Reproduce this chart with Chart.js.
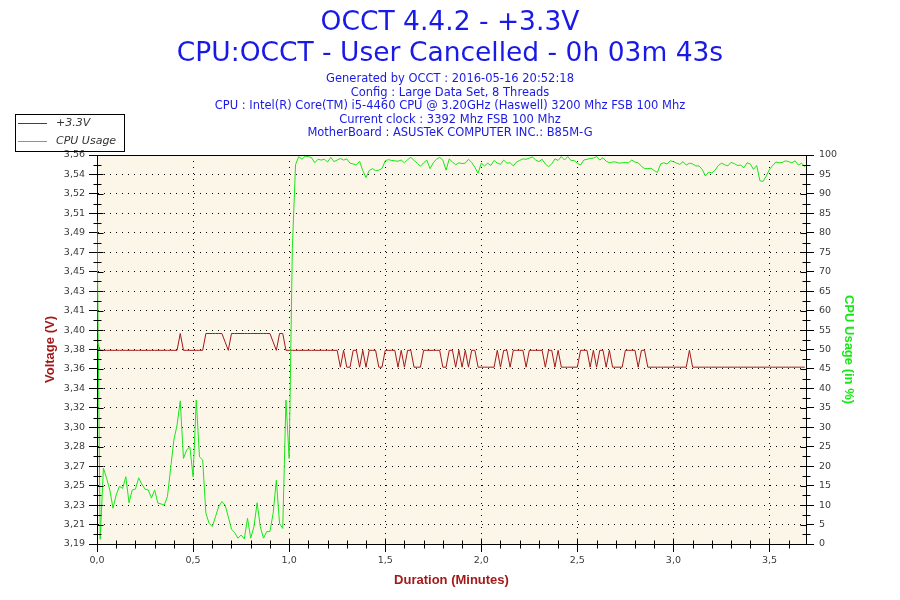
<!DOCTYPE html>
<html>
<head>
<meta charset="utf-8">
<title>OCCT 4.4.2 - +3.3V</title>
<script src="https://cdn.jsdelivr.net/npm/chart.js@4.4.1/dist/chart.umd.min.js"></script>
<style>
  html, body { margin: 0; padding: 0; background: #fff; }
  #wrap { width: 900px; height: 600px; }
</style>
</head>
<body>
<div id="wrap"><canvas id="occt" width="900" height="600"></canvas></div>
<script>
// one sample per second, 0s .. 221s
const voltage = [
  3.384, 3.376, 3.376, 3.376, 3.376, 3.376, 3.376, 3.376, 3.376, 3.376,
  3.376, 3.376, 3.376, 3.376, 3.376, 3.376, 3.376, 3.376, 3.376, 3.376,
  3.376, 3.376, 3.376, 3.376, 3.376, 3.376, 3.392, 3.376, 3.376, 3.376,
  3.376, 3.376, 3.376, 3.376, 3.392, 3.392, 3.392, 3.392, 3.392, 3.392,
  3.384, 3.376, 3.392, 3.392, 3.392, 3.392, 3.392, 3.392, 3.392, 3.392,
  3.392, 3.392, 3.392, 3.392, 3.392, 3.384, 3.376, 3.392, 3.392, 3.376,
  3.376, 3.376, 3.376, 3.376, 3.376, 3.376, 3.376, 3.376, 3.376, 3.376,
  3.376, 3.376, 3.376, 3.376, 3.376, 3.376, 3.360, 3.376, 3.360, 3.360,
  3.376, 3.376, 3.360, 3.376, 3.360, 3.376, 3.376, 3.376, 3.360, 3.360,
  3.376, 3.376, 3.376, 3.376, 3.360, 3.376, 3.360, 3.376, 3.376, 3.360,
  3.360, 3.360, 3.376, 3.376, 3.376, 3.376, 3.376, 3.376, 3.360, 3.360,
  3.376, 3.376, 3.360, 3.376, 3.360, 3.376, 3.360, 3.376, 3.376, 3.360,
  3.360, 3.360, 3.360, 3.360, 3.360, 3.376, 3.360, 3.376, 3.376, 3.360,
  3.376, 3.376, 3.376, 3.376, 3.360, 3.376, 3.376, 3.376, 3.376, 3.376,
  3.360, 3.376, 3.376, 3.360, 3.376, 3.360, 3.360, 3.360, 3.360, 3.360,
  3.360, 3.376, 3.376, 3.376, 3.360, 3.376, 3.360, 3.376, 3.376, 3.360,
  3.376, 3.360, 3.360, 3.360, 3.360, 3.376, 3.376, 3.376, 3.376, 3.360,
  3.376, 3.376, 3.360, 3.360, 3.360, 3.360, 3.360, 3.360, 3.360, 3.360,
  3.360, 3.360, 3.360, 3.360, 3.360, 3.376, 3.360, 3.360, 3.360, 3.360,
  3.360, 3.360, 3.360, 3.360, 3.360, 3.360, 3.360, 3.360, 3.360, 3.360,
  3.360, 3.360, 3.360, 3.360, 3.360, 3.360, 3.360, 3.360, 3.360, 3.360,
  3.360, 3.360, 3.360, 3.360, 3.360, 3.360, 3.360, 3.360, 3.360, 3.360,
  3.360, 3.360
];

const cpuUsage = [
  83.0, 1.2, 19.5, 16.9, 13.9, 9.2, 12.6, 14.8, 14.3, 17.3,
  10.6, 13.9, 14.1, 17.0, 15.4, 14.1, 13.9, 11.8, 13.9, 10.5,
  10.3, 10.0, 12.2, 19.5, 26.7, 30.6, 36.8, 22.0, 24.2, 25.0,
  17.3, 37.0, 22.4, 21.6, 7.9, 5.3, 4.5, 7.0, 9.6, 10.9,
  10.0, 7.0, 3.8, 2.9, 1.5, 2.3, 1.3, 6.6, 1.5, 4.4,
  10.6, 4.4, 1.5, 3.2, 3.2, 7.9, 16.4, 5.3, 4.0, 37.0,
  22.0, 76.0, 97.5, 99.6, 98.9, 99.7, 99.6, 99.3, 98.0, 98.9,
  98.7, 98.9, 98.2, 99.4, 98.3, 98.7, 99.1, 98.7, 99.0, 97.9,
  97.7, 97.4, 98.4, 96.0, 94.2, 96.0, 96.5, 96.0, 96.1, 96.5,
  98.5, 98.8, 98.6, 98.5, 98.4, 98.7, 98.0, 98.8, 99.4, 98.6,
  97.9, 97.1, 98.0, 98.7, 96.5, 98.0, 98.9, 99.4, 98.7, 96.1,
  99.0, 98.2, 97.5, 98.0, 97.8, 97.9, 98.9, 98.1, 96.8, 95.3,
  97.9, 97.2, 97.9, 97.3, 98.6, 97.9, 97.6, 98.7, 97.9, 98.0,
  97.2, 98.2, 98.6, 99.0, 98.9, 99.2, 99.5, 98.7, 98.3, 98.9,
  97.7, 97.0, 97.7, 99.0, 98.6, 99.6, 98.7, 99.6, 98.6, 98.6,
  97.9, 97.4, 98.7, 98.9, 99.1, 99.2, 99.6, 98.7, 99.3, 98.4,
  98.0, 98.2, 98.2, 97.9, 98.0, 98.1, 98.0, 98.7, 98.2, 98.0,
  97.1, 96.5, 96.5, 96.6, 96.0, 95.5, 97.7, 98.0, 97.7, 98.5,
  98.3, 97.9, 97.6, 98.3, 97.4, 97.9, 97.7, 97.2, 97.2, 96.3,
  94.6, 95.6, 95.4, 96.1, 97.3, 97.9, 97.5, 97.2, 98.1, 97.8,
  97.3, 97.4, 96.7, 98.0, 97.7, 96.3, 97.3, 93.4, 93.2, 94.6,
  96.3, 97.3, 98.2, 98.0, 98.1, 98.5, 98.3, 98.0, 98.5, 97.4,
  97.9, 97.0
];

// left axis labels as printed by OCCT (21 evenly spaced ticks)
const voltTickLabels = [
  '3,19', '3,21', '3,23', '3,25', '3,27', '3,28', '3,30', '3,32', '3,34', '3,36',
  '3,38', '3,40', '3,41', '3,43', '3,45', '3,47', '3,49', '3,51', '3,52', '3,54', '3,56'
];

const titleLines = ['OCCT 4.4.2 - +3.3V', 'CPU:OCCT - User Cancelled - 0h 03m 43s'];
const infoLines = [
  'Generated by OCCT : 2016-05-16 20:52:18',
  'Config : Large Data Set, 8 Threads',
  'CPU : Intel(R) Core(TM) i5-4460 CPU @ 3.20GHz (Haswell) 3200 Mhz FSB 100 Mhz',
  'Current clock : 3392 Mhz FSB 100 Mhz',
  'MotherBoard : ASUSTeK COMPUTER INC.: B85M-G'
];

const FONT = "'DejaVu Sans', Verdana, sans-serif";
const RED = '#a31818';
const GREEN = '#16e816';
const BLUE = '#1a1ae6';

const perMinute = arr => arr.map((v, i) => ({ x: i / 60, y: v }));

const background = {
  id: 'background',
  beforeDraw(chart) {
    const { ctx, chartArea: a } = chart;
    ctx.save();
    ctx.fillStyle = '#fff';
    ctx.fillRect(0, 0, chart.width, chart.height);
    ctx.fillStyle = '#fcf6e9';
    ctx.fillRect(a.left, a.top, a.right - a.left, a.bottom - a.top);
    ctx.restore();
  }
};

const decorations = {
  id: 'decorations',
  afterDraw(chart) {
    const { ctx, chartArea: a, scales } = chart;
    ctx.save();
    ctx.strokeStyle = '#000';
    ctx.lineWidth = 1;

    // top frame line
    ctx.beginPath();
    ctx.moveTo(a.left, Math.round(a.top) + 0.5);
    ctx.lineTo(a.right, Math.round(a.top) + 0.5);
    ctx.stroke();

    ctx.beginPath();
    // x axis: inner part of major ticks and minor ticks every 0.1 min
    const xs = scales.x;
    const yb = Math.round(a.bottom) + 0.5;
    for (let k = 1; k / 10 <= xs.max; k++) {
      const px = Math.round(xs.getPixelForValue(k / 10)) + 0.5;
      if (k % 5 === 0) { ctx.moveTo(px, yb - 6); ctx.lineTo(px, yb); }
      else { ctx.moveTo(px, yb - 4); ctx.lineTo(px, yb + 4); }
    }
    // y axes: inner major ticks and half-step minor ticks
    const ys = scales.y1;
    const xl = Math.round(a.left) + 0.5;
    const xr = Math.round(a.right) + 0.5;
    for (let k = 0; k <= 40; k++) {
      const py = Math.round(ys.getPixelForValue(k * 2.5)) + 0.5;
      if (k % 2 === 0) {
        ctx.moveTo(xl, py); ctx.lineTo(xl + 6, py);
        ctx.moveTo(xr - 6, py); ctx.lineTo(xr, py);
      } else {
        ctx.moveTo(xl - 4, py); ctx.lineTo(xl + 4, py);
        ctx.moveTo(xr - 4, py); ctx.lineTo(xr + 4, py);
      }
    }
    ctx.stroke();

    // header
    ctx.fillStyle = BLUE;
    ctx.textAlign = 'center';
    ctx.textBaseline = 'alphabetic';
    ctx.font = '26.5px ' + FONT;
    ctx.fillText(titleLines[0], 450, 30);
    ctx.fillText(titleLines[1], 450, 61);
    ctx.font = '11.5px ' + FONT;
    infoLines.forEach((t, i) => ctx.fillText(t, 450, 82 + i * 13.5));

    // legend
    ctx.strokeStyle = '#000';
    ctx.strokeRect(15.5, 114.5, 109, 37);
    ctx.textAlign = 'left';
    ctx.textBaseline = 'middle';
    ctx.font = 'italic 11px ' + FONT;
    chart.data.datasets.forEach((ds, i) => {
      const y = 123.5 + i * 18;
      ctx.strokeStyle = ds.borderColor;
      ctx.beginPath();
      ctx.moveTo(18, y); ctx.lineTo(47, y);
      ctx.stroke();
      ctx.fillStyle = '#333';
      ctx.fillText(ds.label, 56, y);
    });
    ctx.restore();
  }
};

const tickFont = { family: FONT, size: 9.5 };
const titleFont = { family: "'Liberation Sans', Arial, sans-serif", size: 13, weight: 'bold' };

new Chart(document.getElementById('occt'), {
  type: 'line',
  data: {
    datasets: [
      {
        label: '+3.3V',
        data: perMinute(voltage),
        yAxisID: 'y',
        borderColor: RED,
        borderWidth: 1,
        pointRadius: 0,
        tension: 0,
        order: 2
      },
      {
        label: 'CPU Usage',
        data: perMinute(cpuUsage),
        yAxisID: 'y1',
        borderColor: GREEN,
        borderWidth: 1,
        pointRadius: 0,
        tension: 0,
        order: 1
      }
    ]
  },
  options: {
    responsive: false,
    animation: false,
    devicePixelRatio: 1,
    layout: { padding: { top: 155, left: 0, right: 0, bottom: 0 } },
    plugins: { legend: { display: false }, tooltip: { enabled: false } },
    scales: {
      x: {
        type: 'linear',
        min: 0,
        max: 3.69,
        ticks: {
          stepSize: 0.5,
          includeBounds: false,
          maxRotation: 0,
          padding: 3,
          color: '#3a3a3a',
          font: tickFont,
          callback: v => v.toFixed(1).replace('.', ',')
        },
        grid: { color: '#000', tickLength: 8, tickColor: '#000' },
        border: { color: '#000', dash: [1, 5] },
        title: {
          display: true,
          text: 'Duration (Minutes)',
          color: RED,
          font: titleFont,
          padding: { top: 0, bottom: 12 }
        },
        afterFit: s => { s.height = 56; }
      },
      y: {
        position: 'left',
        min: 3.192,
        max: 3.5616,
        ticks: {
          count: 21,
          padding: 4,
          color: '#3a3a3a',
          font: tickFont,
          callback: (v, i) => voltTickLabels[i]
        },
        grid: { color: '#000', tickLength: 8, tickColor: '#000' },
        border: { color: '#000', dash: [1, 5] },
        title: {
          display: true,
          text: 'Voltage (V)',
          color: RED,
          font: titleFont,
          padding: { top: 43, bottom: 0 }
        },
        afterFit: s => { s.width = 97; }
      },
      y1: {
        position: 'right',
        min: 0,
        max: 100,
        ticks: {
          stepSize: 5,
          padding: 5,
          color: '#3a3a3a',
          font: tickFont
        },
        grid: { drawOnChartArea: false, color: '#000', tickLength: 8, tickColor: '#000' },
        border: { color: '#000' },
        title: {
          display: true,
          text: 'CPU Usage (in %)',
          color: GREEN,
          font: titleFont,
          padding: { top: 44, bottom: 0 }
        },
        afterFit: s => { s.width = 94; }
      }
    }
  },
  plugins: [background, decorations]
});
</script>
</body>
</html>
